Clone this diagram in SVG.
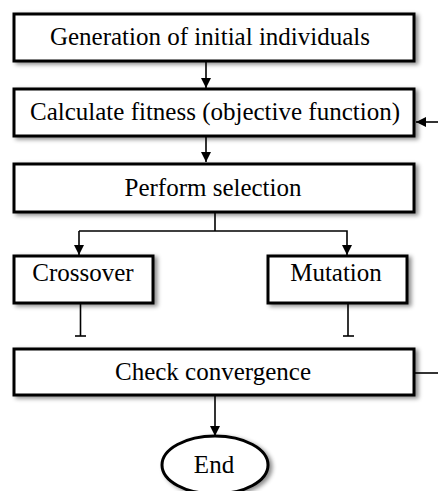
<svg xmlns="http://www.w3.org/2000/svg" width="438" height="491" viewBox="0 0 438 491">
  <defs>
    <filter id="shadow" x="-10%" y="-30%" width="125%" height="170%">
      <feDropShadow dx="3" dy="2" stdDeviation="2.2" flood-color="#000" flood-opacity="0.45"/>
    </filter>
    <marker id="arrow" viewBox="0 0 10 10" refX="10" refY="5" markerWidth="10" markerHeight="10" markerUnits="userSpaceOnUse" orient="auto">
      <path d="M0,0 L10,5 L0,10 Z" fill="#000"/>
    </marker>
  </defs>
  <style>
    .box { fill: #fff; stroke: #000; stroke-width: 3; filter: url(#shadow); }
    .label { font-family: "Liberation Serif", "Times New Roman", serif; font-size: 25px; fill: #000; text-anchor: middle; }
    .conn { fill: none; stroke: #000; stroke-width: 1.6; }
  </style>
  <rect width="438" height="491" fill="#fff"/>

  <g id="connectors">
    <line class="conn" x1="206" y1="62" x2="206" y2="88" marker-end="url(#arrow)"/>
    <line class="conn" x1="206" y1="137" x2="206" y2="162" marker-end="url(#arrow)"/>
    <polyline class="conn" points="215,213 215,231"/>
    <polyline class="conn" points="79,231 347,231 347,255" marker-end="url(#arrow)"/>
    <line class="conn" x1="79" y1="231" x2="79" y2="255" marker-end="url(#arrow)"/>
    <line class="conn" x1="80.5" y1="304" x2="80.5" y2="336"/>
    <line class="conn" x1="75" y1="336" x2="86" y2="336"/>
    <line class="conn" x1="348" y1="304" x2="348" y2="336"/>
    <line class="conn" x1="343" y1="336" x2="354" y2="336"/>
    <line class="conn" x1="415" y1="373" x2="438" y2="373"/>
    <line class="conn" x1="438" y1="122" x2="416" y2="122" marker-end="url(#arrow)"/>
    <line class="conn" x1="215" y1="396" x2="215" y2="436" marker-end="url(#arrow)"/>
  </g>

  <g id="init">
    <rect class="box" x="14" y="14" width="400" height="47"/>
    <text class="label" x="210" y="45">Generation of initial individuals</text>
  </g>
  <g id="fitness">
    <rect class="box" x="14" y="89" width="400" height="47"/>
    <text class="label" x="215" y="120">Calculate fitness (objective function)</text>
  </g>
  <g id="selection">
    <rect class="box" x="14" y="164" width="400" height="48"/>
    <text class="label" x="213" y="196">Perform selection</text>
  </g>
  <g id="crossover">
    <rect class="box" x="14" y="256" width="139" height="47"/>
    <text class="label" x="83" y="281">Crossover</text>
  </g>
  <g id="mutation">
    <rect class="box" x="268" y="256" width="139" height="47"/>
    <text class="label" x="336" y="281">Mutation</text>
  </g>
  <g id="convergence">
    <rect class="box" x="14" y="349" width="400" height="46"/>
    <text class="label" x="213" y="380">Check convergence</text>
  </g>
  <g id="end">
    <ellipse class="box" cx="215" cy="465" rx="53" ry="29" stroke-width="1.6"/>
    <text class="label" x="214" y="473">End</text>
  </g>
</svg>
